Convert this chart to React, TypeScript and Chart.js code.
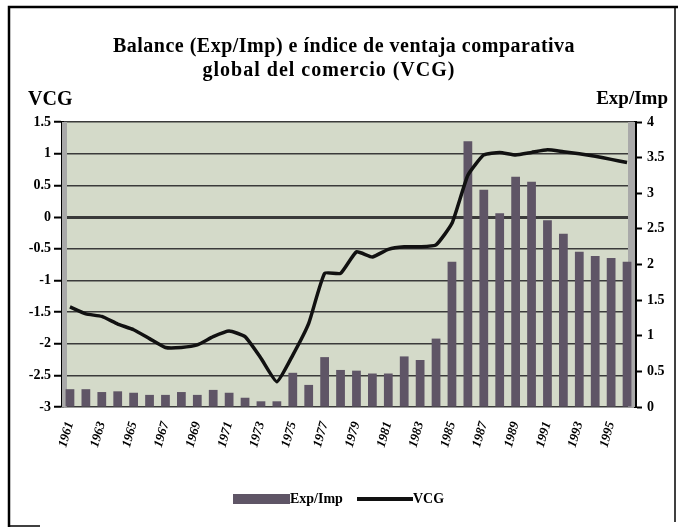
import React, { useEffect, useRef } from "react";
import { Chart, registerables } from "chart.js";

Chart.register(...registerables);

const years = [
  "1961", "1962", "1963", "1964", "1965", "1966", "1967", "1968", "1969", "1970",
  "1971", "1972", "1973", "1974", "1975", "1976", "1977", "1978", "1979", "1980",
  "1981", "1982", "1983", "1984", "1985", "1986", "1987", "1988", "1989", "1990",
  "1991", "1992", "1993", "1994", "1995", "1996",
];

const expImp = [
  0.25, 0.25, 0.21, 0.22, 0.2, 0.17, 0.17, 0.21, 0.17, 0.24,
  0.2, 0.13, 0.08, 0.08, 0.48, 0.31, 0.7, 0.52, 0.51, 0.47,
  0.47, 0.71, 0.66, 0.96, 2.04, 3.73, 3.05, 2.72, 3.23, 3.16,
  2.62, 2.43, 2.18, 2.12, 2.09, 2.04,
];

const vcg = [
  -1.42, -1.53, -1.57, -1.69, -1.78, -1.92, -2.06, -2.06, -2.02, -1.89,
  -1.8, -1.89, -2.23, -2.6, -2.18, -1.68, -0.89, -0.89, -0.55, -0.63,
  -0.51, -0.47, -0.47, -0.44, -0.1, 0.66, 0.98, 1.02, 0.98, 1.02,
  1.06, 1.03, 1.0, 0.96, 0.91, 0.86,
];

const titleLines = [
  "Balance (Exp/Imp) e índice de ventaja comparativa",
  "global del comercio (VCG)",
];

const SERIF = "'Liberation Serif', 'DejaVu Serif', serif";
const BAR_COLOR = "#5f5566";
const PLOT_BG = "#d4dac9";

const decorPlugin = {
  id: "decor",
  beforeDraw(chart: any) {
    const { ctx, chartArea: a, width, height } = chart;
    ctx.save();
    ctx.fillStyle = "#ffffff";
    ctx.fillRect(0, 0, width, height);
    ctx.strokeStyle = "#000";
    ctx.lineWidth = 2.5;
    ctx.beginPath();
    ctx.moveTo(9, height);
    ctx.lineTo(9, 7);
    ctx.lineTo(width, 7);
    ctx.stroke();
    ctx.lineWidth = 1.5;
    ctx.beginPath();
    ctx.moveTo(675, 7);
    ctx.lineTo(675, 522);
    ctx.stroke();
    ctx.beginPath();
    ctx.moveTo(9, 526);
    ctx.lineTo(40, 526);
    ctx.stroke();
    ctx.fillStyle = PLOT_BG;
    ctx.fillRect(a.left, a.top, a.right - a.left, a.bottom - a.top);
    ctx.restore();
  },
  beforeDatasetsDraw(chart: any) {
    const { ctx, chartArea: a } = chart;
    ctx.save();
    ctx.fillStyle = "#a9a9a9";
    ctx.fillRect(a.left, a.top, 5, a.bottom - a.top);
    ctx.fillRect(a.right - 7, a.top, 7, a.bottom - a.top);
    ctx.restore();
  },
  afterDraw(chart: any) {
    const { ctx } = chart;
    ctx.save();
    ctx.fillStyle = "#000";
    ctx.textBaseline = "middle";
    ctx.textAlign = "center";
    ctx.font = `bold 20px ${SERIF}`;
    (ctx as any).letterSpacing = "0.5px";
    ctx.fillText(titleLines[0], 344, 47);
    (ctx as any).letterSpacing = "1px";
    ctx.fillText(titleLines[1], 329, 71);
    (ctx as any).letterSpacing = "0px";
    ctx.font = `bold 20px ${SERIF}`;
    ctx.textAlign = "left";
    ctx.fillText("VCG", 28, 100);
    ctx.font = `bold 19px ${SERIF}`;
    ctx.textAlign = "right";
    ctx.fillText("Exp/Imp", 668, 99);
    const ly = 499;
    ctx.fillStyle = BAR_COLOR;
    ctx.fillRect(233, ly - 5, 57, 10);
    ctx.fillStyle = "#000";
    ctx.font = `bold 14px ${SERIF}`;
    ctx.textAlign = "left";
    ctx.fillText("Exp/Imp", 290, ly);
    ctx.strokeStyle = "#111";
    ctx.lineWidth = 4;
    ctx.beginPath();
    ctx.moveTo(357, ly);
    ctx.lineTo(413, ly);
    ctx.stroke();
    ctx.fillText("VCG", 413, ly);
    ctx.restore();
  },
};

export default function App() {
  const ref = useRef<HTMLCanvasElement | null>(null);

  useEffect(() => {
    if (!ref.current) return;
    const chart = new Chart(ref.current, {
      type: "bar",
      data: {
        labels: years,
        datasets: [
          {
            type: "line",
            label: "VCG",
            data: vcg,
            yAxisID: "yL",
            borderColor: "#111",
            borderWidth: 3.5,
            pointRadius: 0,
            tension: 0.15,
            order: 0,
          } as any,
          {
            type: "bar",
            label: "Exp/Imp",
            data: expImp,
            yAxisID: "yR",
            backgroundColor: BAR_COLOR,
            barPercentage: 0.55,
            categoryPercentage: 1,
            order: 1,
          },
        ],
      },
      options: {
        responsive: false,
        animation: false,
        events: [],
        layout: { padding: { left: 10, right: 8, top: 122, bottom: 70 } },
        plugins: {
          legend: { display: false },
          title: { display: false },
          tooltip: { enabled: false },
        },
        scales: {
          x: {
            type: "category",
            offset: true,
            grid: { display: false },
            border: { display: false },
            ticks: {
              autoSkip: false,
              maxRotation: 74,
              minRotation: 74,
              padding: 5,
              color: "#000",
              font: { family: SERIF, size: 13, weight: "bold", style: "italic" },
              callback: (_v: any, i: number) => (i % 2 === 0 ? years[i] : ""),
            },
            afterFit: (s: any) => {
              s.height = 50;
            },
          },
          yL: {
            type: "linear",
            position: "left",
            min: -3,
            max: 1.5,
            ticks: {
              stepSize: 0.5,
              padding: 3,
              color: "#000",
              font: { family: SERIF, size: 14, weight: "bold" },
              callback: (v: any) => String(v),
            },
            grid: {
              color: "#3a3a3a",
              lineWidth: (c: any) => (c.tick && c.tick.value === 0 ? 3 : 1.5),
              tickLength: 8,
              tickColor: "#000",
              tickWidth: 2,
            },
            border: { display: true, color: "#000", width: 3 },
            afterFit: (s: any) => {
              s.width = 52;
            },
          },
          yR: {
            type: "linear",
            position: "right",
            min: 0,
            max: 4,
            ticks: {
              stepSize: 0.5,
              padding: 5,
              color: "#000",
              font: { family: SERIF, size: 14, weight: "bold" },
              callback: (v: any) => String(v),
            },
            grid: {
              drawOnChartArea: false,
              tickLength: 7,
              tickColor: "#000",
              tickWidth: 2,
            },
            border: { display: true, color: "#000", width: 3 },
            afterFit: (s: any) => {
              s.width = 35;
            },
          },
        },
      },
      plugins: [decorPlugin],
    });
    return () => chart.destroy();
  }, []);

  return (
    <div style={{ position: "absolute", left: 0, top: 0, width: 678, height: 527 }}>
      <canvas ref={ref} width={678} height={527} style={{ display: "block" }} />
    </div>
  );
}
